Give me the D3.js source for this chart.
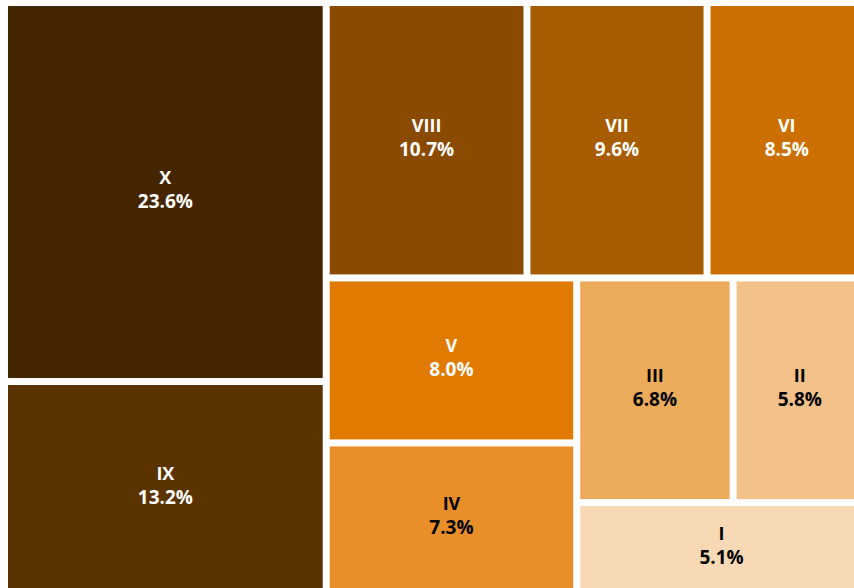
<!DOCTYPE html>
<html>
<head>
<meta charset="utf-8">
<script src="https://cdn.jsdelivr.net/npm/d3@7"></script>
<style>
  html, body { margin: 0; padding: 0; background: #ffffff; overflow: hidden; }
  svg { display: block; }
</style>
</head>
<body>
<svg id="chart" width="854" height="588"></svg>
<script>
// Data
const names = ["X", "IX", "VIII", "VII", "VI", "V", "IV", "III", "II", "I"];
const shares = [23.6, 13.2, 10.7, 9.6, 8.5, 8.0, 7.3, 6.8, 5.8, 5.1];
const fills = ["#442500", "#5b3300", "#8a4a00", "#a75c00", "#cb7000", "#e07a00", "#e88f2a", "#ecaa5b", "#f2c189", "#f7dab5"];
const textColors = ["#ffffff", "#ffffff", "#ffffff", "#ffffff", "#ffffff", "#ffffff", "#000000", "#000000", "#000000", "#000000"];

const svg = d3.select("#chart");
const g = svg.append("g").attr("transform", "translate(8,6)");

const root = d3.hierarchy({
  children: names.map((n, i) => ({ name: n, value: shares[i], i }))
}).sum(d => d.value || 0);

d3.treemap()
  .tile(d3.treemapSquarify)
  .size([855, 584])
  .paddingInner(7)
  .round(false)(root);

const leaves = root.leaves();

const cell = g.selectAll("g.cell")
  .data(leaves)
  .join("g")
  .attr("class", "cell");

cell.append("rect")
  .attr("x", d => d.x0)
  .attr("y", d => d.y0)
  .attr("width", d => d.x1 - d.x0)
  .attr("height", d => d.y1 - d.y0)
  .attr("fill", d => fills[d.data.i]);

const fmt = d3.format(".1f");

cell.append("text")
  .attr("x", d => (d.x0 + d.x1) / 2)
  .attr("y", d => (d.y0 + d.y1) / 2 - 8)
  .attr("text-anchor", "middle")
  .attr("font-family", "'Open Sans', sans-serif")
  .attr("font-weight", 700)
  .attr("font-size", 18)
  .attr("fill", d => textColors[d.data.i])
  .text(d => d.data.name);

cell.append("text")
  .attr("x", d => (d.x0 + d.x1) / 2)
  .attr("y", d => (d.y0 + d.y1) / 2 + 16)
  .attr("text-anchor", "middle")
  .attr("font-family", "'Open Sans', sans-serif")
  .attr("font-weight", 700)
  .attr("font-size", 19)
  .attr("fill", d => textColors[d.data.i])
  .text(d => fmt(d.data.value) + "%");
</script>
</body>
</html>
